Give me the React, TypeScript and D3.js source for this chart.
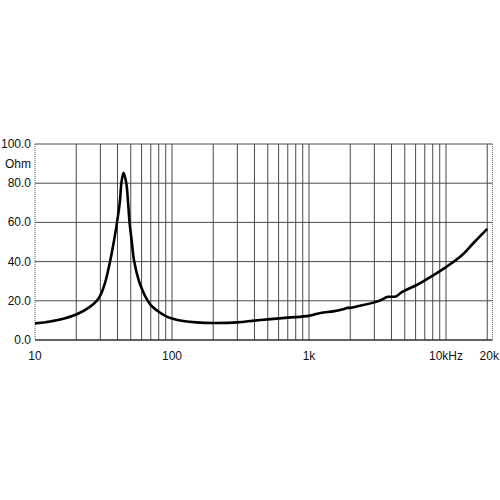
import * as d3 from 'd3'

const freqs = [
  10, 12, 15, 20, 25, 28.2, 30, 32.4, 35.3, 37.7, 39.7, 41.7, 42.7, 44.3, 46.4, 47.7, 49, 50.8, 53, 57.4, 60, 65,
  70, 80, 90, 100, 121, 151, 200, 300, 400, 500, 700, 1000, 1150, 1280, 1500, 1800, 1900, 2000, 2300, 3000, 3500,
  3700, 4300, 4700, 5000, 6000, 7000, 8000, 10000, 13000, 15700, 20000,
]
const ohms = [
  8.5, 9.1, 10.3, 13.0, 16.8, 20, 22.8, 29, 40, 50.5, 60, 71, 80, 85.3, 80, 71, 60, 50.5, 40, 30, 26.5, 21.2,
  17.8, 14.4, 12.2, 11.0, 9.7, 9.0, 8.7, 9.0, 9.9, 10.5, 11.4, 12.3, 13.4, 14.0, 14.6, 15.8, 16.4, 16.4, 17.3, 19.2,
  21.0, 22.0, 22.2, 24.2, 25.2, 27.8, 30.4, 32.8, 37.2, 43.1, 49.1, 56.7,
]
const yTicks = [0, 20, 40, 60, 80, 100]
const xLabels = [
  { f: 10, label: '10' },
  { f: 100, label: '100' },
  { f: 1000, label: '1k' },
  { f: 10000, label: '10kHz' },
  { f: 20000, label: '20k' },
]

export default function App() {
  const width = 500
  const height = 500
  const left = 35
  const right = 492.5
  const top = 144
  const bottom = 340
  const x = d3
    .scaleLog()
    .domain([10, 20000])
    .range([left, left + 137 * Math.log10(2000)])
  const y = d3.scaleLinear().domain([0, 100]).range([bottom, top])
  const gridFreqs = x.ticks().filter((f) => f > 10)
  const points = freqs.map((f, i) => [f, ohms[i]] as [number, number])
  const line = d3
    .line<[number, number]>()
    .x((d) => x(d[0]))
    .y((d) => y(d[1]))
    .curve(d3.curveCatmullRom.alpha(0.5))
  const font = "'Liberation Sans', Arial, sans-serif"

  return (
    <svg
      width={width}
      height={height}
      viewBox={`0 0 ${width} ${height}`}
      style={{ position: 'absolute', left: 0, top: 0, background: '#fff' }}
    >
      {gridFreqs.map((f) => (
        <line key={f} x1={x(f)} x2={x(f)} y1={top} y2={bottom} stroke="#4a4a4a" strokeWidth="1" />
      ))}
      {yTicks.map((t) => (
        <line key={t} x1={left} x2={right} y1={y(t)} y2={y(t)} stroke="#4a4a4a" strokeWidth="1" />
      ))}
      <line x1={left} x2={left} y1={top} y2={bottom} stroke="#555" strokeWidth="1" strokeDasharray="1 1" />
      <line x1={right} x2={right} y1={top} y2={bottom} stroke="#777" strokeWidth="1" strokeDasharray="1 1" />
      <line x1={left} x2={right} y1={bottom} y2={bottom} stroke="#222" strokeWidth="1.2" />

      <path d={line(points) ?? ''} fill="none" stroke="#000" strokeWidth="2.6" strokeLinejoin="round" />

      {yTicks.map((t) => (
        <text key={t} x={31} y={y(t) + 4} textAnchor="end" fontSize="12" fontFamily={font} fill="#111">
          {t.toFixed(1)}
        </text>
      ))}
      <text x={31} y={168} textAnchor="end" fontSize="12" fontFamily={font} fill="#111">
        Ohm
      </text>
      {xLabels.map((d) => (
        <text
          key={d.label}
          x={d.f === 20000 ? x(d.f) + 2 : x(d.f)}
          y={360}
          textAnchor="middle"
          fontSize="12"
          fontFamily={font}
          fill="#111"
        >
          {d.label}
        </text>
      ))}
    </svg>
  )
}
